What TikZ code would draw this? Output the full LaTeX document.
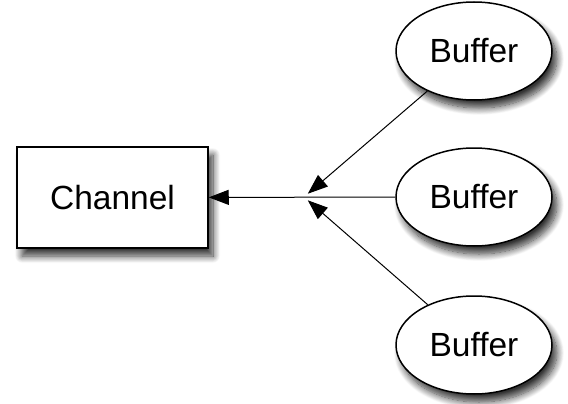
\documentclass[tikz,border=0pt]{standalone}
\usepackage{fontspec}
\setmainfont{Liberation Sans}
\usetikzlibrary{shapes.geometric,arrows.meta,shadows.blur}

\tikzset{
  buffer/.style={ellipse, draw, line width=1.5pt, fill=white, minimum width=156pt, minimum height=98pt, inner sep=0pt, font=\fontsize{33.5}{38}\selectfont,
    blur shadow={shadow xshift=5pt, shadow yshift=-8pt, shadow blur radius=7pt, shadow blur steps=12, shadow opacity=80}},
  chan/.style={rectangle, draw, line width=1.5pt, fill=white, minimum width=191pt, minimum height=101pt, inner sep=0pt, font=\fontsize{33.5}{38}\selectfont,
    blur shadow={shadow xshift=5pt, shadow yshift=-8pt, shadow blur radius=7pt, shadow blur steps=12, shadow opacity=80}},
  flow/.style={line width=1pt, -{Triangle[length=20pt,width=15pt]}}
}

\begin{document}
\begin{tikzpicture}[x=1pt, y=-1pt]
            \useasboundingbox (0,0) rectangle (568,404);
            \node[chan] (channel) at (112.5,197.5) {Channel};
            \node[buffer] (buf1) at (474,51) {Buffer};
            \node[buffer] (buf2) at (474,197) {Buffer};
            \node[buffer] (buf3) at (474,345) {Buffer};
            \coordinate (join) at (304,197);
            \draw[flow] (buf2) -- (channel);
            \draw[flow, shorten >=5pt] (buf1) -- (join);
            \draw[flow, shorten >=5pt] (buf3) -- (join);
          \end{tikzpicture}
\end{document}
